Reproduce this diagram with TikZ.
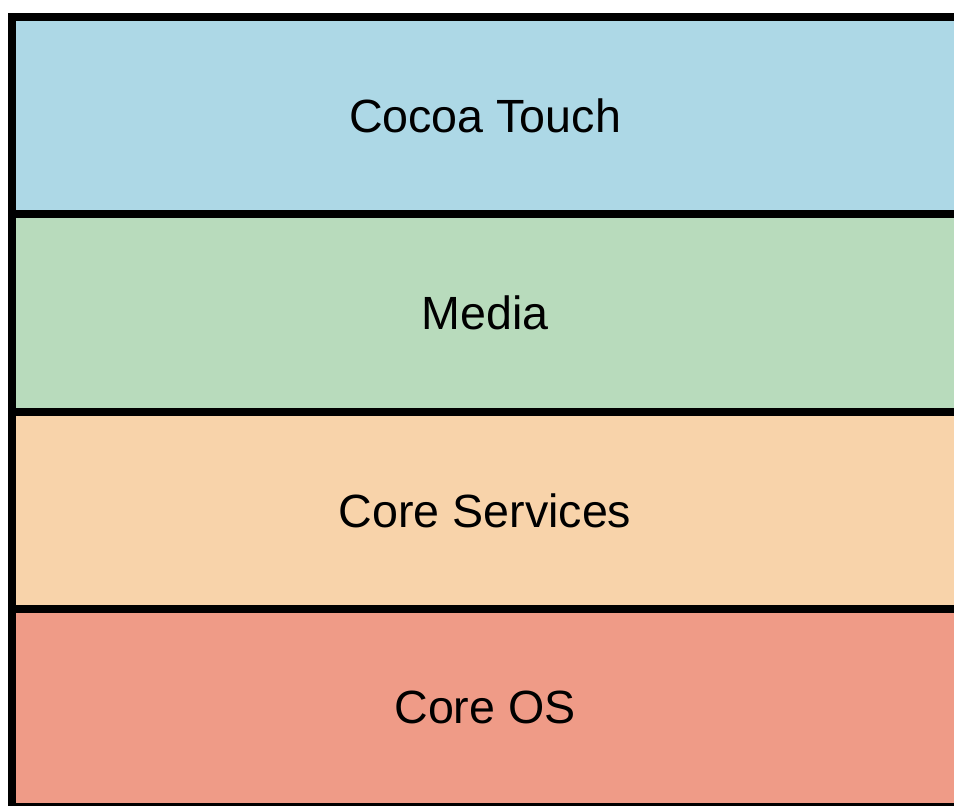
\documentclass[tikz,border=0pt]{standalone}
\usepackage{fontspec}
\setmainfont{Liberation Sans}
\definecolor{cocoablue}{RGB}{173,216,230}
\definecolor{mediagreen}{RGB}{184,219,188}
\definecolor{servicesorange}{RGB}{248,211,170}
\definecolor{osred}{RGB}{239,155,135}
\begin{document}
\begin{tikzpicture}[x=0.5pt, y=-0.5pt, node distance={98.7pt},
    layer/.style = {draw, line width=4pt, outer sep=0pt, minimum width=473.5pt, minimum height=98.7pt, font=\fontsize{23.3pt}{28pt}\selectfont}]
    \path[use as bounding box, clip] (0,0) rectangle (954,805);
    \node[layer, fill=cocoablue] (cocoa) at (485,115.7) {Cocoa Touch};
    \node[layer, fill=mediagreen, below of=cocoa] (media) {Media};
    \node[layer, fill=servicesorange, below of=media] (services) {Core Services};
    \node[layer, fill=osred, below of=services] (os) {Core OS};
\end{tikzpicture}
\end{document}
